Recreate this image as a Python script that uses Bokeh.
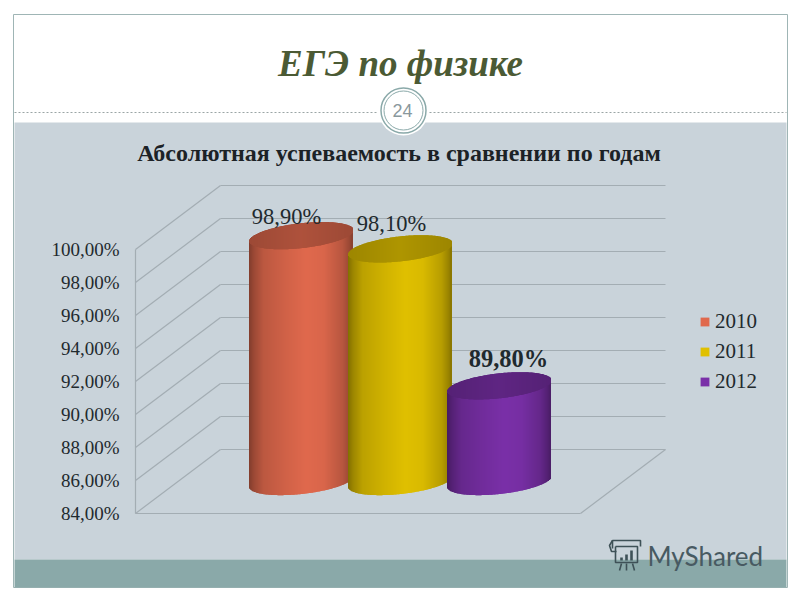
import numpy as np
from bokeh.core.properties import value as V
from bokeh.embed import file_html
from bokeh.models import (BoxAnnotation, FixedTicker, Legend, LegendItem, LinearAxis, Range1d)
from bokeh.plotting import figure
from bokeh.resources import INLINE

# ---- data
title_main = "ЕГЭ по физике"
title_chart = "Абсолютная успеваемость в сравнении по годам"
years = ["2010", "2011", "2012"]
results = [98.9, 98.1, 89.8]
result_labels = ["98,90%", "98,10%", "89,80%"]
label_weights = ["normal", "normal", "bold"]
label_sizes = ["22.5px", "22.5px", "24.5px"]
axis_ticks = [84, 86, 88, 90, 92, 94, 96, 98, 100]
axis_labels = ["84,00%", "86,00%", "88,00%", "90,00%", "92,00%", "94,00%", "96,00%", "98,00%", "100,00%"]
slide_number = "24"
watermark = "MyShared"

# ---- colours
mid_colors = [(224, 105, 77), (224, 192, 0), (122, 48, 168)]

# ---- layout
PX_PER_UNIT = 16.5
FRONT_BASE_PX = 513.0
def val(py):
    return 84 + (FRONT_BASE_PX - np.asarray(py, dtype=float)) / PX_PER_UNIT

RIGHT, BOTTOM = 792, 592
AX_X = 135
DEPTH_X, DEPTH_UNITS = 85, 64 / PX_PER_UNIT
FLOOR_R = 580

p = figure(width=RIGHT, height=BOTTOM, output_backend="svg", toolbar_location=None,
           x_range=Range1d(0, RIGHT), y_range=Range1d(float(val(BOTTOM)), float(val(0))),
           x_axis_type=None, y_axis_type=None, min_border=0,
           background_fill_color=None, border_fill_color="#ffffff", outline_line_color=None)
p.grid.visible = False

# slide panels in canvas pixels
def panel(l, r, t, b, color, line=None):
    p.add_layout(BoxAnnotation(left=l, right=r, top=t, bottom=b,
                               left_units="canvas", right_units="canvas", top_units="canvas", bottom_units="canvas",
                               fill_color=color, fill_alpha=1.0, line_color=line, line_alpha=1.0 if line else 0,
                               level="underlay"))
panel(13, 787, 14, 587, "#ffffff", "#9fb5b5")
panel(14, 786, 122, 559, "#c9d3da")
panel(14, 786, 559, 587, "#8aa9a9")

# value axis
yaxis = LinearAxis(ticker=FixedTicker(ticks=axis_ticks),
                   major_label_overrides={t: l for t, l in zip(axis_ticks, axis_labels)},
                   major_tick_out=0, major_tick_in=0, minor_tick_out=0, minor_tick_in=0,
                   major_label_standoff=16, bounds=(84, 100), fixed_location=AX_X,
                   axis_line_color="#a3adb3", axis_line_width=1.2,
                   major_label_text_font="Liberation Serif", major_label_text_font_size="19px",
                   major_label_text_color="#1f2a2e")
p.add_layout(yaxis, "left")

# walls and floor
ticks = np.array(axis_ticks, dtype=float)
grid_color = "#a3adb3"
p.segment(x0=[AX_X] * len(ticks), y0=ticks, x1=[AX_X + DEPTH_X] * len(ticks), y1=ticks + DEPTH_UNITS,
          line_color=grid_color, line_width=1.2)
p.segment(x0=[AX_X + DEPTH_X] * len(ticks), y0=ticks + DEPTH_UNITS, x1=[AX_X + DEPTH_X + 445] * len(ticks),
          y1=ticks + DEPTH_UNITS, line_color=grid_color, line_width=1.2)
p.segment(x0=[AX_X, FLOOR_R], y0=[84, 84], x1=[FLOOR_R, FLOOR_R + DEPTH_X], y1=[84, 84 + DEPTH_UNITS],
          line_color=grid_color, line_width=1.2)

# cylinders
HALF_W = 52.0
CENTERS = [301.0, 400.0, 499.0]
BASE_V = 84 + DEPTH_UNITS / 2
SHEAR = 5.5 / 52.0 / PX_PER_UNIT
CAP_H = 12.5 / PX_PER_UNIT
shade_t = [0, 0.05, 0.14, 0.35, 0.55, 0.72, 0.9, 0.97, 1.0]
shade_v = [0.58, 0.7, 0.84, 0.93, 1.0, 0.97, 0.82, 0.68, 0.58]
def to_hex(rgb, k):
    return "#%02x%02x%02x" % tuple(int(np.clip(c * k, 0, 255)) for c in rgb)

base_renderers = []
for cx, v, col in zip(CENTERS, results, mid_colors):
    xs = np.arange(cx - HALF_W + 0.5, cx + HALF_W - 0.5, 1.0)
    u = (xs - cx) / HALF_W
    arc = CAP_H * np.sqrt(np.clip(1 - u ** 2, 0, 1))
    shear = (xs - cx) * SHEAR
    bottom_c = BASE_V + shear
    top_c = v + DEPTH_UNITS / 2 + shear
    t = (xs - (cx - HALF_W)) / (2 * HALF_W)
    k = np.interp(t, shade_t, shade_v)
    r = p.vbar(x=[cx], width=2 * HALF_W - 30, bottom=[BASE_V], top=[v + DEPTH_UNITS / 2],
               fill_color=to_hex(col, 1), fill_alpha=1.0, line_color=None)
    base_renderers.append(r)
    p.vbar(x=xs, width=2, bottom=bottom_c - arc, top=top_c,
           fill_color=[to_hex(col, c) for c in k], fill_alpha=1.0, line_color=None)
    # cap: darker
    cap_k = 0.74 + 0.04 * np.interp(t, [0, 0.5, 1], [-1, 1, -1])
    p.vbar(x=xs, width=2, bottom=top_c - arc, top=top_c + arc,
           fill_color=[to_hex(col, c) for c in cap_k], fill_alpha=1.0, line_color=None)

# value labels
offsets = np.array([19, 25, 27]) / PX_PER_UNIT
label_x = [286, 391, 508]
for x, v, off, lab, w, s in zip(label_x, results, offsets, result_labels, label_weights, label_sizes):
    p.text(x=[x], y=[v + DEPTH_UNITS / 2 + off], text=[lab], text_align="center", text_baseline="middle",
           text_font=V("Liberation Serif"), text_font_size=s, text_font_style=w, text_color="#1f2a2e")

# legend
legend = Legend(items=[LegendItem(label=y, renderers=[r]) for y, r in zip(years, base_renderers)],
                location=(699, 198), background_fill_alpha=0, border_line_alpha=0,
                glyph_width=11, glyph_height=11, spacing=5, label_standoff=5, margin=0, padding=0,
                label_text_font="Liberation Serif", label_text_font_size="21px", label_text_color="#1f2a2e",
                orientation="vertical")
p.add_layout(legend, "center")

# titles
p.text(x=[400], y=[val(63)], text=[title_main], text_align="center", text_baseline="middle",
       text_font=V("Liberation Serif"), text_font_size="37px", text_font_style="bold italic", text_color="#4b5a34")
p.text(x=[398.5], y=[val(152)], text=[title_chart], text_align="center", text_baseline="middle",
       text_font=V("Liberation Serif"), text_font_size="24px", text_font_style="bold", text_color="#1c2226")

# dotted header rule and number badge
p.segment(x0=[14, 425], y0=[val(112)] * 2, x1=[378, 786], y1=[val(112)] * 2,
          line_color="#9aa5a5", line_dash="2 2", line_width=1)
p.scatter(x=[403], y=[val(110)], size=50, marker="circle", fill_color="#ffffff", line_color=None)
p.scatter(x=[403], y=[val(110)], size=45, marker="circle", fill_color="#ffffff", line_color="#8aa9a9", line_width=1.5)
p.scatter(x=[403], y=[val(110)], size=39, marker="circle", fill_color="#ffffff", line_color="#8aa9a9", line_width=1)
p.text(x=[402], y=[val(110)], text=[slide_number], text_align="center", text_baseline="middle",
       text_font=V("Liberation Sans"), text_font_size="18px", text_color="#8a989d")

# watermark
ink = "#3e5157"
p.text(x=[647], y=[val(555)], text=[watermark], text_align="left", text_baseline="middle",
       text_font=V("Lato"), text_font_size="26px", text_color="#485a62")
p.multi_line(xs=[[612, 612, 640, 640], [615, 615, 637, 637, 615], [612, 609, 611, 616], [621, 619], [626, 626], [632, 634]],
             ys=[list(val([548, 540, 540, 546])), list(val([546, 562, 562, 546, 546])), list(val([540, 545, 551, 551])),
                 list(val([563, 570])), list(val([563, 570])), list(val([563, 570]))],
             line_color=ink, line_width=1.6)
p.vbar(x=[621, 626, 631], width=2.6, bottom=[val(560)] * 3, top=val([557, 554, 550]), fill_color=ink, line_color=None)

open("out.html", "w").write(file_html(p, INLINE))
